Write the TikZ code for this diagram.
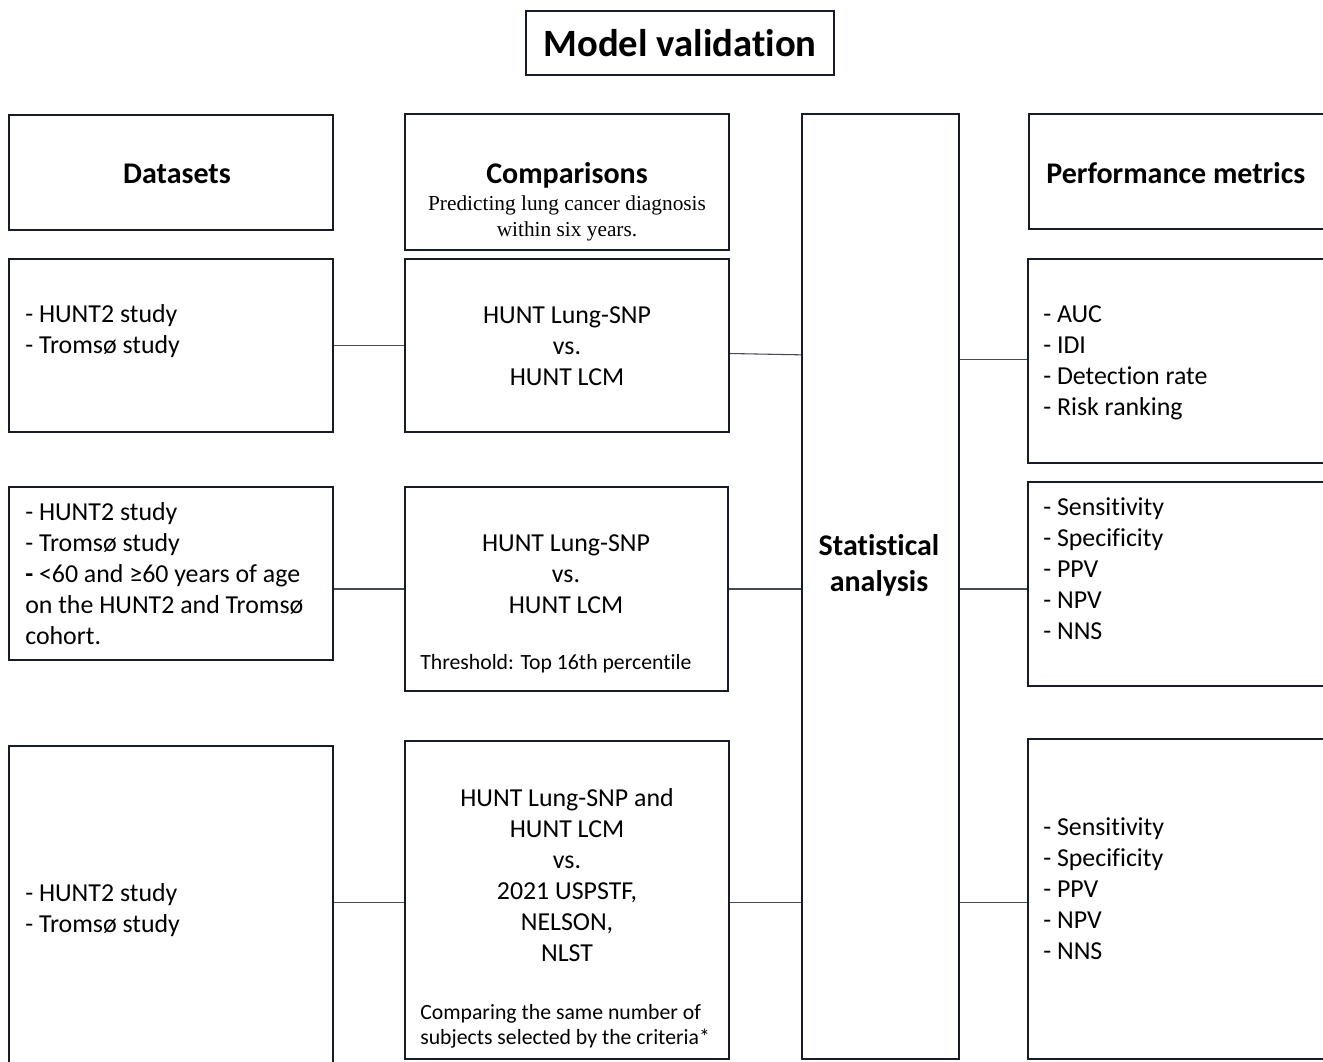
\documentclass[tikz,border=0pt]{standalone}
\usepackage{fontspec}
\setmainfont[Ligatures=CommonOff]{Carlito}
\newfontfamily\serifft{Liberation Serif}
\usetikzlibrary{positioning}
\definecolor{boxline}{RGB}{22,28,42}
\definecolor{linkgray}{RGB}{70,74,84}

\begin{document}
\begin{tikzpicture}[x=0.75pt,y=-0.75pt,
  box/.style={draw=boxline,line width=1.5pt,inner sep=0pt,minimum width=243pt},
  link/.style={draw=linkgray,line width=0.8pt},
  body/.style={font=\fontsize{19.4}{23.25}\selectfont,inner sep=0pt},
  head/.style={font=\fontsize{22.5}{27}\selectfont\bfseries,inner sep=0pt},
  note/.style={font=\fontsize{16.3}{18.75}\selectfont,inner sep=0pt,anchor=west,align=left}]
  \clip (0,0) rectangle (1323,1061);
  % titulo
  \node[box,minimum width=231pt,minimum height=48pt,
        font=\fontsize{29}{34}\selectfont\bfseries] (title) at (680,43) {Model validation};
  % cabeceras
  \node[box,minimum height=86.25pt] (dhead) at (171,172.5) {};
  \node[head] at (177,174) {Datasets};
  \node[box,minimum height=102pt] (chead) at (567,182) {};
  \node[head] (ctitle) at (567,175) {Comparisons};
  \node[inner sep=0pt,align=center,font=\serifft\fontsize{16}{19.5}\selectfont] (csub) at (567,218)
    {Predicting lung cancer diagnosis\\within six years.};
  \node[box,minimum width=117.75pt,minimum height=708.75pt] (stat) at (880.5,586.5) {};
  \node[head,align=center] at (879,565) {Statistical\\analysis};
  \node[box,minimum width=234pt,minimum height=86.25pt] (phead) at (1184.5,171.5) {};
  \node[head,anchor=west] at (1046,173) {Performance metrics};
  % fila 1
  \node[box,minimum height=129.75pt] (d1) at (171,345.5) {};
  \node[body,anchor=west,align=left] at (25,331.5) {- HUNT2 study\\- Tromsø study};
  \node[box,minimum height=129.75pt] (c1) at (567,345.5) {};
  \node[body,align=center] at (567,346) {HUNT Lung-SNP\\vs.\\HUNT LCM};
  \node[box,minimum width=234pt,minimum height=153pt] (p1) at (1184,361) {};
  \node[body,anchor=west,align=left] at (1043,363) {- AUC\\- IDI\\- Detection rate\\- Risk ranking};
  % fila 2
  \node[box,minimum height=129.75pt] (d2) at (171,573.5) {};
  \node[body,anchor=west,align=left] at (25,574) {- HUNT2 study\\- Tromsø study\\\textbf{-} <60 and ≥60 years of age\\on the HUNT2 and Tromsø\\cohort.};
  \node[box,minimum width=242.25pt,minimum height=153pt] (c2) at (566.5,589) {};
  \node[body,align=center] at (566,574) {HUNT Lung-SNP\\vs.\\HUNT LCM};
  \node[note] at (420,664) {Threshold: Top 16th percentile};
  \node[box,minimum width=234pt,minimum height=153pt] (p2) at (1184,584) {};
  \node[body,anchor=west,align=left] at (1043,568.5) {- Sensitivity\\- Specificity\\- PPV\\- NPV\\- NNS};
  % fila 3
  \node[box,minimum height=250.5pt] (d3) at (171,913) {};
  \node[body,anchor=west,align=left] at (25,910.5) {- HUNT2 study\\- Tromsø study};
  \node[box,minimum height=238.5pt] (c3) at (567,900) {};
  \node[body,align=center] at (567,875.5) {HUNT Lung-SNP and\\HUNT LCM\\vs.\\2021 USPSTF,\\NELSON,\\NLST};
  \node[note] at (420,1026) {Comparing the same number of\\subjects selected by the criteria*};
  \node[box,minimum width=234pt,minimum height=240pt] (p3) at (1184,899) {};
  \node[body,anchor=west,align=left] at (1043,888.5) {- Sensitivity\\- Specificity\\- PPV\\- NPV\\- NNS};
  % conexiones
  \draw[link] (d1.east) -- (c1.west);
  \draw[link] ([yshift=-6pt]c1.east) -- ([yshift=-7pt]c1.east -| stat.west);
  \draw[link] ([yshift=1pt]stat.east |- p1.west) -- ([yshift=1pt]p1.west);
  \draw[link] (d2.east |- c2.west) -- (c2.west);
  \draw[link] (c2.east) -- (stat.west |- c2.east);
  \draw[link] (stat.east |- c2.east) -- (p2.west |- c2.east);
  \draw[link] ([yshift=-2pt]d3.east |- c3.west) -- ([yshift=-2pt]c3.west);
  \draw[link] ([yshift=-2pt]c3.east) -- ([yshift=-2pt]stat.west |- c3.east);
  \draw[link] ([yshift=-2pt]stat.east |- c3.east) -- ([yshift=-2pt]p3.west |- c3.east);
\end{tikzpicture}
\end{document}
